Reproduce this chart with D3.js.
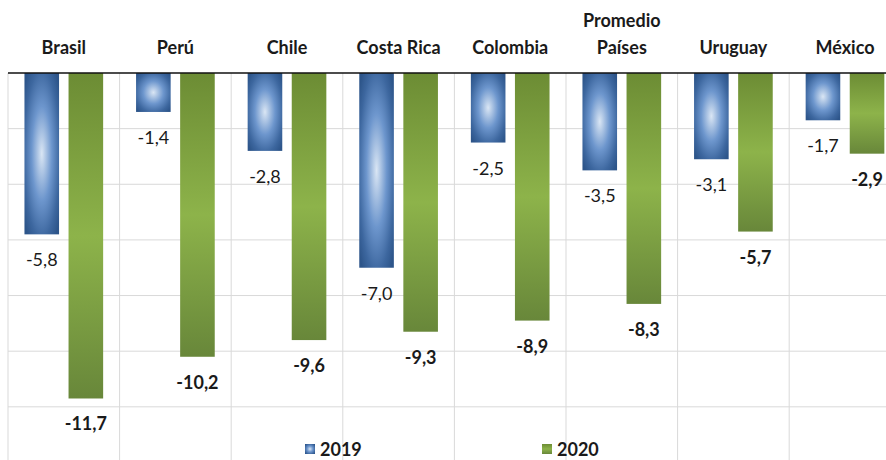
<!DOCTYPE html>
<html>
<head>
<meta charset="utf-8">
<script src="https://cdn.jsdelivr.net/npm/d3@7"></script>
<style>
  html, body { margin: 0; padding: 0; background: #fff; }
  svg { display: block; font-family: Lato, "Open Sans", sans-serif; }
</style>
</head>
<body>
<svg id="chart" width="886" height="460"></svg>
<script>
// Variación anual por país, 2019 y 2020
const categories = ["Brasil", "Perú", "Chile", "Costa Rica", "Colombia", "Promedio Países", "Uruguay", "México"];
const labelLines = [["Brasil"], ["Perú"], ["Chile"], ["Costa Rica"], ["Colombia"], ["Promedio", "Países"], ["Uruguay"], ["México"]];
const values2019 = [-5.8, -1.4, -2.8, -7.0, -2.5, -3.5, -3.1, -1.7];
const values2020 = [-11.7, -10.2, -9.6, -9.3, -8.9, -8.3, -5.7, -2.9];
const seriesNames = ["2019", "2020"];
const gridTicks = [-2, -4, -6, -8, -10, -12];

const svg = d3.select("#chart");
const W = 886, H = 460;

const x = d3.scaleBand().domain(categories).range([8, 8 + 8 * 111.6]).padding(0);
const y = d3.scaleLinear().domain([-14, 0]).range([73 + 14 * 27.82, 73]);
const bw = x.bandwidth();
const barW = bw * 0.31, gap = bw * 0.085;
const pad = (bw - 2 * barW - gap) / 2;

const fmt = v => d3.format(".1f")(v).replace(".", ",").replace("−", "-");

// gradients
const defs = svg.append("defs");
const rg = defs.append("radialGradient").attr("id", "gBlue")
  .attr("cx", "50%").attr("cy", "50%").attr("r", "65%");
rg.append("stop").attr("offset", "0%").attr("stop-color", "#dae6f4");
rg.append("stop").attr("offset", "45%").attr("stop-color", "#6d96cd");
rg.append("stop").attr("offset", "80%").attr("stop-color", "#3d679f");
rg.append("stop").attr("offset", "100%").attr("stop-color", "#2d558a");

const lg = defs.append("linearGradient").attr("id", "gGreen")
  .attr("x1", 0).attr("y1", 0).attr("x2", 0).attr("y2", 1);
lg.append("stop").attr("offset", "0%").attr("stop-color", "#6c8c34");
lg.append("stop").attr("offset", "50%").attr("stop-color", "#8db34a");
lg.append("stop").attr("offset", "100%").attr("stop-color", "#68873a");

// horizontal gridlines
svg.append("g").selectAll("line").data(gridTicks).join("line")
  .attr("x1", 8).attr("x2", W)
  .attr("y1", d => y(d)).attr("y2", d => y(d))
  .attr("stroke", "#d9d9d9").attr("stroke-width", 1);

// vertical category dividers
const bounds = categories.map(c => x(c)).concat([x(categories[categories.length - 1]) + bw]);
svg.append("g").selectAll("line").data(bounds).join("line")
  .attr("x1", d => d).attr("x2", d => d)
  .attr("y1", y(0)).attr("y2", H)
  .attr("stroke", "#d9d9d9").attr("stroke-width", 1);

// bars
const gBars = svg.append("g");
gBars.selectAll("rect.b19").data(values2019).join("rect")
  .attr("x", (d, i) => x(categories[i]) + pad)
  .attr("y", y(0)).attr("width", barW)
  .attr("height", d => y(d) - y(0))
  .attr("fill", "url(#gBlue)");
gBars.selectAll("rect.b20").data(values2020).join("rect")
  .attr("x", (d, i) => x(categories[i]) + pad + barW + gap)
  .attr("y", y(0)).attr("width", barW)
  .attr("height", d => y(d) - y(0))
  .attr("fill", "url(#gGreen)");

// zero line
svg.append("line").attr("x1", 8).attr("x2", W)
  .attr("y1", y(0)).attr("y2", y(0))
  .attr("stroke", "#111").attr("stroke-width", 1.5);

// value labels
const gLab = svg.append("g").attr("font-size", 18).attr("fill", "#1a1a1a").attr("text-anchor", "middle");
gLab.selectAll("text.l19").data(values2019).join("text")
  .attr("x", (d, i) => x(categories[i]) + pad + barW / 2)
  .attr("y", d => y(d) + 32)
  .text(d => fmt(d));
gLab.selectAll("text.l20").data(values2020).join("text")
  .attr("x", (d, i) => x(categories[i]) + pad + barW + gap + barW / 2)
  .attr("y", d => y(d) + 32)
  .attr("font-weight", "bold")
  .text(d => fmt(d));

// category labels on top
const gCat = svg.append("g").attr("font-size", 18).attr("font-weight", "bold")
  .attr("fill", "#1a1a1a").attr("text-anchor", "middle");
labelLines.forEach((lines, i) => {
  const cx = x(categories[i]) + bw / 2;
  lines.forEach((t, j) => {
    gCat.append("text").attr("x", cx)
      .attr("y", 54 - (lines.length - 1 - j) * 27)
      .text(t);
  });
});

// legend
const legend = [
  { name: seriesNames[0], fill: "url(#gBlue)", x: 305 },
  { name: seriesNames[1], fill: "url(#gGreen)", x: 542 }
];
const gLeg = svg.append("g");
legend.forEach(l => {
  gLeg.append("rect").attr("x", l.x).attr("y", 444).attr("width", 10).attr("height", 10)
    .attr("fill", l.fill);
  gLeg.append("text").attr("x", l.x + 15).attr("y", 456)
    .attr("font-size", 18).attr("font-weight", "bold").attr("fill", "#1a1a1a")
    .text(l.name);
});
</script>
</body>
</html>
